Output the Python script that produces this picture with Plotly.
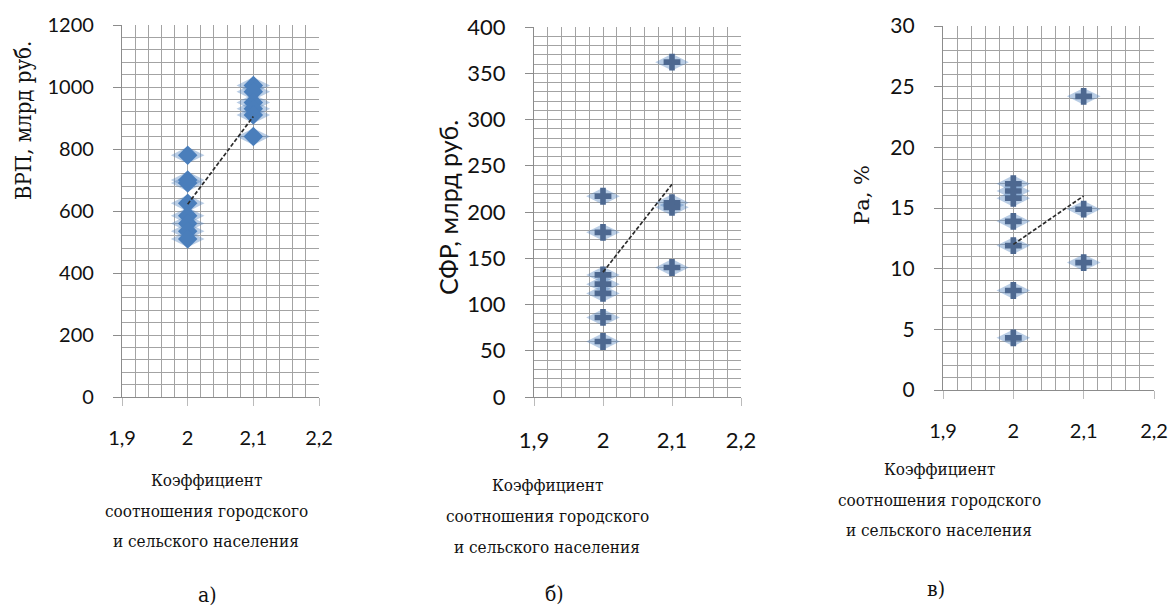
import plotly.graph_objects as go

# ---------------- data ----------------
x_a = [2, 2, 2, 2, 2, 2, 2, 2, 2.1, 2.1, 2.1, 2.1, 2.1, 2.1]
vrp = [780, 700, 690, 625, 585, 560, 535, 510, 1005, 985, 950, 930, 910, 840]
trend_a_x = [2, 2.1]
trend_a_y = [622, 905]

x_b = [2, 2, 2, 2, 2, 2, 2, 2.1, 2.1, 2.1, 2.1]
sfr = [217, 178, 132, 122, 112, 86, 60, 362, 210, 205, 140]
trend_b_x = [2, 2.1]
trend_b_y = [135, 230]

x_c = [2, 2, 2, 2, 2, 2, 2, 2.1, 2.1, 2.1]
ra = [17.0, 16.4, 15.8, 13.9, 11.9, 8.2, 4.3, 24.2, 14.9, 10.5]
trend_c_x = [2, 2.1]
trend_c_y = [12.0, 16.0]

x_ticks = [1.9, 2.0, 2.1, 2.2]
x_ticktext = ["1,9", "2", "2,1", "2,2"]

y_title_a = "ВРП, млрд руб."
y_title_b = "СФР, млрд руб."
y_title_c = "Ра, %"
x_title_lines = ["Коэффициент", "соотношения городского", "и сельского населения"]
panel_labels = ["а)", "б)", "в)"]

# figure fills the window (page margin removed below)
W, H = 1174, 606

def px_x(p):
    return p / W

def px_y(p):
    return 1 - p / H

SANS = "Lato"
SERIF = "DejaVu Serif Condensed, DejaVu Serif"
SERIF2 = "DejaVu Serif"
GRID = "#a3a3a3"
AXIS = "#8c8c8c"
HALO = "rgba(79,129,189,0.40)"
BLUE = "#4a7ebb"
CROSS = "#4d6890"

fig = go.Figure()

def add_points(xs, ys, xa, ya, kind):
    fig.add_trace(go.Scatter(x=xs, y=ys, xaxis=xa, yaxis=ya, mode="markers",
                             marker=dict(symbol="diamond-wide", size=24, color=HALO, line=dict(width=0)),
                             hoverinfo="skip", showlegend=False))
    if kind == "diamond":
        fig.add_trace(go.Scatter(x=xs, y=ys, xaxis=xa, yaxis=ya, mode="markers",
                                 marker=dict(symbol="diamond", size=15, color=BLUE,
                                             line=dict(width=0)),
                                 showlegend=False))
    else:
        fig.add_trace(go.Scatter(x=xs, y=ys, xaxis=xa, yaxis=ya, mode="markers",
                                 marker=dict(symbol="cross", size=14, color=CROSS,
                                             line=dict(width=0)),
                                 showlegend=False))

def add_trend(xs, ys, xa, ya):
    fig.add_trace(go.Scatter(x=xs, y=ys, xaxis=xa, yaxis=ya, mode="lines",
                             line=dict(color="#2b2b2b", width=1.7, dash="4px,2px"),
                             showlegend=False, hoverinfo="skip"))

add_points(x_a, vrp, "x", "y", "diamond")
add_trend(trend_a_x, trend_a_y, "x", "y")
add_points(x_b, sfr, "x2", "y2", "cross")
add_trend(trend_b_x, trend_b_y, "x2", "y2")
add_points(x_c, ra, "x3", "y3", "cross")
add_trend(trend_c_x, trend_c_y, "x3", "y3")

def xaxis_cfg(left, right, anchor, fs):
    return dict(domain=[px_x(left), px_x(right)], anchor=anchor, range=[1.9, 2.2],
                tickvals=x_ticks, ticktext=x_ticktext,
                showgrid=True, gridcolor=GRID, gridwidth=1,
                minor=dict(dtick=0.02, tick0=1.9, showgrid=True, gridcolor=GRID, gridwidth=1),
                showline=True, linecolor=AXIS, linewidth=1.2,
                ticks="outside", ticklen=8, tickcolor="#bbbbbb",
                ticklabelstandoff=15, automargin=False,
                tickfont=dict(family=SANS, size=fs, color="#111111"),
                zeroline=False, fixedrange=True)

def yaxis_cfg(top, bottom, anchor, rng, dtick, minor, fs):
    return dict(domain=[px_y(bottom), px_y(top)], anchor=anchor, range=rng, dtick=dtick, tick0=0,
                showgrid=True, gridcolor=GRID, gridwidth=1,
                minor=dict(dtick=minor, tick0=0, showgrid=True, gridcolor=GRID, gridwidth=1),
                showline=True, linecolor=AXIS, linewidth=1.2,
                ticks="outside", ticklen=8, tickcolor=AXIS,
                ticklabelstandoff=15, automargin=False,
                tickfont=dict(family=SANS, size=fs, color="#111111"),
                zeroline=False, fixedrange=True)

fig.update_layout(
    width=W, height=H, margin=dict(l=0, r=0, t=0, b=0, autoexpand=False),
    paper_bgcolor="white", plot_bgcolor="white",
    separators=", ",
    xaxis=xaxis_cfg(122, 319, "y", 20),
    yaxis=yaxis_cfg(25, 397, "x", [0, 1200], 200, 40, 20),
    xaxis2=xaxis_cfg(534, 741, "y2", 22),
    yaxis2=yaxis_cfg(27, 397, "x2", [0, 400], 50, 10, 22),
    xaxis3=xaxis_cfg(943, 1154, "y3", 20),
    yaxis3=yaxis_cfg(26, 390, "x3", [0, 30], 5, 1, 21),
)

ann = []
# y titles
ann.append(dict(text=y_title_a, x=px_x(23), y=px_y(121), xref="paper", yref="paper",
                showarrow=False, textangle=-90, xanchor="center", yanchor="middle",
                font=dict(family=SERIF, size=22, color="#111111")))
ann.append(dict(text=y_title_b, x=px_x(448), y=px_y(208), xref="paper", yref="paper",
                showarrow=False, textangle=-90, xanchor="center", yanchor="middle",
                font=dict(family=SANS, size=25, color="#111111")))
ann.append(dict(text=y_title_c, x=px_x(862), y=px_y(195), xref="paper", yref="paper",
                showarrow=False, textangle=-90, xanchor="center", yanchor="middle",
                font=dict(family=SERIF2, size=21, color="#111111")))

# x titles (three lines each)
centers = [(206, [480, 511, 541]), (547, [485, 516, 547]), (939, [469, 500, 530])]
for cx, ys in centers:
    for line, yy in zip(x_title_lines, ys):
        ann.append(dict(text=line, x=px_x(cx), y=px_y(yy), xref="paper", yref="paper",
                        showarrow=False, xanchor="center", yanchor="middle",
                        font=dict(family=SERIF, size=17, color="#111111")))

label_pos = [(207, 595), (554, 594), (936, 589)]
for lab, (lx, ly) in zip(panel_labels, label_pos):
    ann.append(dict(text=lab, x=px_x(lx), y=px_y(ly), xref="paper", yref="paper",
                    showarrow=False, xanchor="center", yanchor="middle",
                    font=dict(family=SERIF, size=21, color="#111111")))

fig.update_layout(annotations=ann)

fig.write_html("out.html", config={"displayModeBar": False},
               post_script="document.body.style.margin='0';document.body.style.overflow='hidden';")
